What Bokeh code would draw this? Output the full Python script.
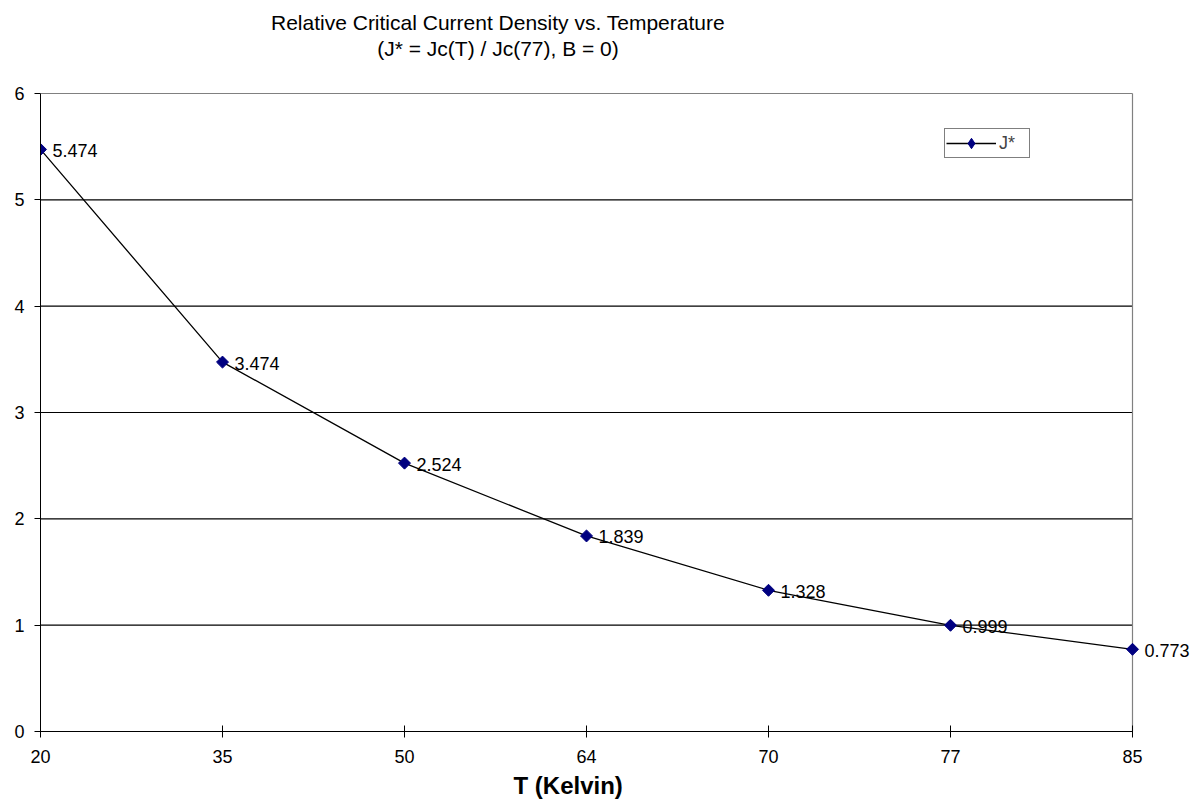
import math

from bokeh.core.properties import value
from bokeh.embed import file_html
from bokeh.models import (ColumnDataSource, FixedTicker, Label, LabelSet,
                          Legend, LegendItem, Range1d, Title)
from bokeh.plotting import figure
from bokeh.resources import INLINE

# Temperature categories (K) and relative critical current density J* = Jc(T)/Jc(77)
temperatures = [20, 35, 50, 64, 70, 77, 85]
j_star = [5.474, 3.474, 2.524, 1.839, 1.328, 0.999, 0.773]
y_ticks = [0, 1, 2, 3, 4, 5, 6]

FONT = "Liberation Sans"
W, H = 1199, 809
LEFT, BOTTOM = 40, 78          # room for the axes
PLOT_W, PLOT_H = 1092, 638     # size of the bordered plot area

# categories are evenly spaced along the axis
positions = list(range(len(temperatures)))
x_last = positions[-1]
y_top = y_ticks[-1]

# the frame runs past the bordered area (right and top) so that the title
# and the outermost data label have room to be drawn
px_x = PLOT_W / x_last
px_y = PLOT_H / y_top
x_end = (W - LEFT) / px_x
y_end = (H - BOTTOM) / px_y

source = ColumnDataSource(data=dict(
    x=positions,
    y=j_star,
    label=[f"{v:.3f}" for v in j_star],
))

p = figure(
    width=W, height=H,
    x_range=Range1d(0, x_end), y_range=Range1d(0, y_end),
    output_backend="svg", toolbar_location=None, title=None,
    min_border_left=LEFT, min_border_right=0,
    min_border_top=0, min_border_bottom=BOTTOM,
    background_fill_color="white", border_fill_color="white",
)
p.outline_line_color = None
p.xgrid.grid_line_color = None
p.ygrid.grid_line_color = None

# axes
p.xaxis.ticker = FixedTicker(ticks=positions)
p.xaxis.major_label_overrides = {i: str(t) for i, t in enumerate(temperatures)}
p.xaxis.bounds = (0, x_last)
p.yaxis.ticker = FixedTicker(ticks=y_ticks)
p.yaxis.bounds = (0, y_top)
for ax in (p.xaxis[0], p.yaxis[0]):
    ax.axis_line_color = "black"
    ax.axis_line_width = 1
    ax.major_tick_line_color = "black"
    ax.minor_tick_line_color = None
    ax.major_label_text_font = FONT
    ax.major_label_text_font_size = "18px"
    ax.major_label_text_color = "black"
p.xaxis.major_tick_in = 6
p.xaxis.major_tick_out = 6
p.xaxis.major_label_standoff = 12
p.yaxis.major_tick_in = 0
p.yaxis.major_tick_out = 6
p.yaxis.major_label_standoff = 10

# horizontal gridlines, gray top and right border of the plot area
inner = y_ticks[1:-1]
p.segment(x0=[0] * len(inner), y0=inner, x1=[x_last] * len(inner), y1=inner,
          line_color="black", line_width=1.2)
p.segment(x0=[0, x_last], y0=[y_top, 0], x1=[x_last, x_last], y1=[y_top, y_top],
          line_color="#808080", line_width=1.2)

# series
line = p.line("x", "y", source=source, line_color="black", line_width=1.3)
p.scatter("x", "y", source=source, marker="square", angle=math.pi / 4,
          size=8.5, fill_color="#000080", line_color="#000080")
# diamond sample shown in the legend only
key = p.scatter("x", "y", source=source, marker="diamond",
                fill_color="#000080", line_color="#000080", visible=False)

labels = LabelSet(x="x", y="y", text="label", source=source,
                  x_offset=12, y_offset=-1, text_baseline="middle",
                  text_font=value(FONT), text_font_size=value("18px"),
                  text_color="black")
p.add_layout(labels)

legend = Legend(items=[LegendItem(label="J*", renderers=[line, key])],
                location=(904, 573), padding=1, margin=0, spacing=0,
                glyph_width=50, glyph_height=26, label_standoff=3,
                label_width=29, label_text_font=FONT,
                label_text_font_size="18px", border_line_color="black",
                border_line_width=1, background_fill_color="white",
                background_fill_alpha=1.0)
p.add_layout(legend)

# two-line chart title, placed in the space above the plot area
title_x = (497.5 - LEFT) / px_x
title_kw = dict(text_align="center", text_baseline="middle", text_font=FONT,
                text_color="black", text_font_size="21px")
p.add_layout(Label(x=title_x, y=(H - BOTTOM - 22) / px_y,
                   text="Relative Critical Current Density vs. Temperature", **title_kw))
p.add_layout(Label(x=title_x, y=(H - BOTTOM - 48) / px_y,
                   text="(J* = Jc(T) / Jc(77), B = 0)", **title_kw))

# x-axis title
p.add_layout(Title(text="T (Kelvin)", align="left", offset=473,
                   text_font=FONT, text_font_size="24px",
                   text_font_style="bold", text_color="black", standoff=8),
             "below")

open("out.html", "w").write(file_html(p, INLINE))
